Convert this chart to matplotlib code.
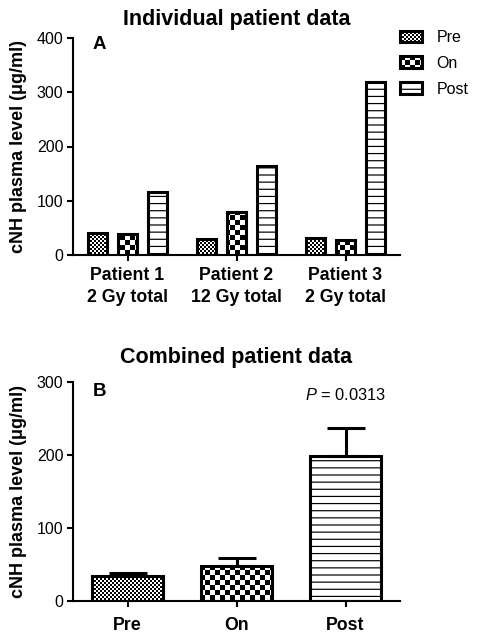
import numpy as np
import matplotlib
matplotlib.use('Agg')
from matplotlib import pyplot as plt
from matplotlib import hatch as mhatch
from matplotlib.path import Path


patients = ['Patient 1\n2 Gy total', 'Patient 2\n12 Gy total', 'Patient 3\n2 Gy total']
phases = ['Pre', 'On', 'Post']
pre_vals = [41, 29, 32]
on_vals = [38, 79, 27]
post_vals = [116, 164, 319]

combined_mean = [34, 48, 199]
combined_err = [4, 10, 38]
p_value = '0.0313'


# custom fill patterns: 'o' fine checker, 'O' coarse checker, '-' thin lines
class CheckerHatch(mhatch.HatchPatternBase):
    char = 'o'
    cells = 50

    def __init__(self, hatch, density):
        n = self.cells
        self.num_vertices = (n * n // 2) * 5 if self.char in hatch else 0

    def set_vertices_and_codes(self, vertices, codes):
        n = self.cells
        s = 1.0 / n
        sq = np.array([[0, 0], [s, 0], [s, s], [0, s], [0, 0]])
        sq_codes = [Path.MOVETO, Path.LINETO, Path.LINETO, Path.LINETO, Path.CLOSEPOLY]
        k = 0
        for i in range(n):
            for j in range(n):
                if (i + j) % 2 == 0:
                    vertices[k:k + 5] = sq + [i * s, j * s]
                    codes[k:k + 5] = sq_codes
                    k += 5


class CoarseChecker(CheckerHatch):
    char = 'O'
    cells = 20


class LineHatch(mhatch.HatchPatternBase):
    lines = 14
    thick = 0.012

    def __init__(self, hatch, density):
        self.num_vertices = self.lines * 5 if '-' in hatch else 0

    def set_vertices_and_codes(self, vertices, codes):
        h = self.thick / 2
        for j in range(self.lines):
            y = (j + 0.5) / self.lines
            vertices[j * 5:j * 5 + 5] = [[0, y - h], [1, y - h], [1, y + h], [0, y + h], [0, y - h]]
            codes[j * 5:j * 5 + 5] = [Path.MOVETO, Path.LINETO, Path.LINETO, Path.LINETO, Path.CLOSEPOLY]


mhatch._hatch_types = [LineHatch, CheckerHatch, CoarseChecker]

plt.rcParams['font.family'] = ['Liberation Sans', 'DejaVu Sans']
plt.rcParams['mathtext.fontset'] = 'custom'
plt.rcParams['mathtext.it'] = 'Liberation Sans:italic'
plt.rcParams['mathtext.rm'] = 'Liberation Sans'
plt.rcParams['hatch.linewidth'] = 0.0
plt.rcParams['hatch.color'] = 'black'

W, H = 481, 640
fig = plt.figure(figsize=(W / 100, H / 100), dpi=100)
ax_a = fig.add_axes([73 / W, 1 - 255 / H, 327 / W, 217 / H])
ax_b = fig.add_axes([73 / W, 1 - 600.7 / H, 327 / W, 218.7 / H])

hatches = ['o', 'O', '-']
bar_lw = 2.2


def style_axes(ax, xlabels, xpad):
    for s in ['top', 'right']:
        ax.spines[s].set_visible(False)
    for s in ['left', 'bottom']:
        ax.spines[s].set_linewidth(1.5)
    ax.tick_params(direction='out', length=4.5, width=1.5)
    ax.tick_params(axis='y', labelsize=11.5, pad=2.5)
    ax.tick_params(axis='x', pad=xpad)
    ax.set_xticks(np.arange(len(xlabels)))
    ax.set_xticklabels(xlabels, fontsize=12.8, fontweight='bold', linespacing=1.32)
    ax.set_xlim(-0.5, len(xlabels) - 0.5)
    ax.set_ylabel('cNH plasma level (μg/ml)', fontsize=13, fontweight='bold')
    ax.yaxis.set_label_coords(-0.141, 0.5)


# panel A
x = np.arange(len(patients))
width = 0.18
offset = 0.275
for k, vals in enumerate([pre_vals, on_vals, post_vals]):
    ax_a.bar(x + (k - 1) * offset, vals, width, facecolor='white', edgecolor='black',
             linewidth=bar_lw, hatch=hatches[k], label=phases[k])
style_axes(ax_a, patients, 4.5)
ax_a.set_ylim(0, 400)
ax_a.set_yticks([0, 100, 200, 300, 400])
ax_a.set_title('Individual patient data', fontsize=15.5, fontweight='bold', pad=9.4)
ax_a.text(0.061, 0.968, 'A', transform=ax_a.transAxes, fontsize=13.5, fontweight='bold',
          ha='left', va='center')
ax_a.legend(loc='upper left', bbox_to_anchor=(399.8 / W, 1 - 30 / H), bbox_transform=fig.transFigure,
            frameon=False, fontsize=11.5, handlelength=1.375, handleheight=0.75,
            handletextpad=0.93, labelspacing=0.68, borderpad=0, borderaxespad=0)

# panel B
xb = np.arange(len(phases))
for k in range(len(phases)):
    ax_b.bar(xb[k], combined_mean[k], 0.66, facecolor='white', edgecolor='black',
             linewidth=bar_lw, hatch=hatches[k])
ax_b.errorbar(xb, combined_mean, yerr=[np.zeros(len(xb)), combined_err], fmt='none',
              ecolor='black', elinewidth=2.2, capsize=13.7, capthick=2.2)
style_axes(ax_b, phases, 7)
ax_b.set_ylim(0, 300)
ax_b.set_yticks([0, 100, 200, 300])
ax_b.set_title('Combined patient data', fontsize=15.5, fontweight='bold', pad=13.5)
ax_b.text(0.061, 0.956, 'B', transform=ax_b.transAxes, fontsize=13.5, fontweight='bold',
          ha='left', va='center')
ax_b.text(xb[2], 282, '$P$ = ' + p_value, fontsize=11.8, ha='center', va='center')

plt.savefig('out.png', dpi=100)
